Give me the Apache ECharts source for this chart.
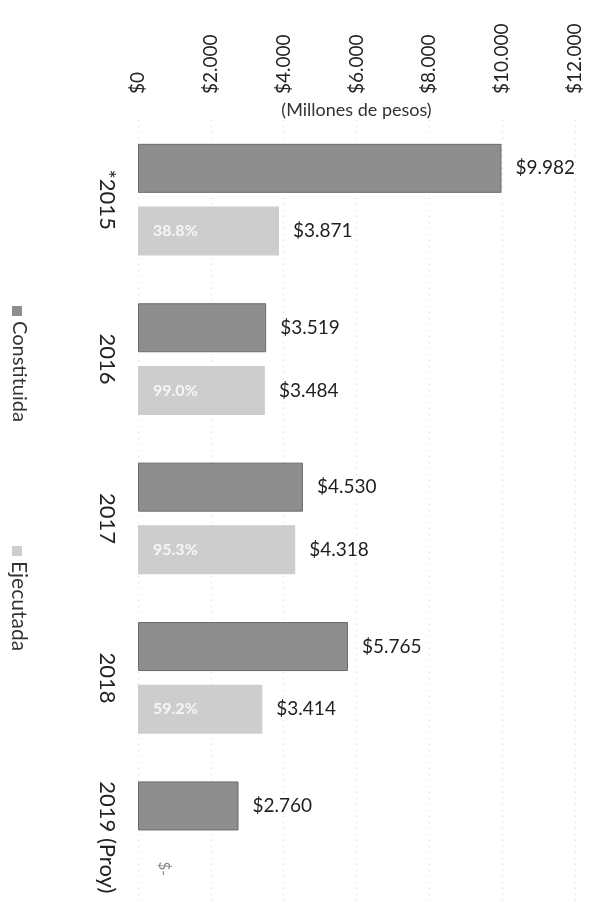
<!DOCTYPE html>
<html>
<head>
<meta charset="utf-8">
<script src="https://cdn.jsdelivr.net/npm/echarts@6/dist/echarts.min.js"></script>
<style>
  html, body { margin: 0; padding: 0; background: #fff; }
  #chart { width: 595px; height: 903px; }
</style>
</head>
<body>
<div id="chart"></div>
<script>
// Reserva constituida vs. ejecutada por año (millones de pesos)
const categories = ['*2015', '2016', '2017', '2018', '2019 (Proy)'];
const seriesNames = ['Constituida', 'Ejecutada'];
const constituida = [9982, 3519, 4530, 5765, 2760];
const ejecutada = [3871, 3484, 4318, 3414, 0];
const valueMin = 0;
const valueMax = 12000;
const valueStep = 2000;
const axisTitle = '(Millones de pesos)';

const FONT = 'Lato, "Open Sans", sans-serif';
const DARK = '#8e8e8e';
const LIGHT = '#cdcdcd';

function thousands(v) {
  return String(Math.round(v)).replace(/\B(?=(\d{3})+(?!\d))/g, '.');
}
function money(v) {
  return v === 0 ? '$-' : '$' + thousands(v);
}
function pct(num, den) {
  return (num / den * 100).toFixed(1) + '%';
}

const chart = echarts.init(document.getElementById('chart'), null, { renderer: 'canvas' });

const option = {
  backgroundColor: '#ffffff',
  animation: false,
  textStyle: { fontFamily: FONT },
  grid: { left: 138, right: 20, top: 120, height: 797, outerBoundsMode: 'none', containLabel: false },
  xAxis: {
    type: 'value',
    position: 'top',
    min: valueMin,
    max: valueMax,
    interval: valueStep,
    name: axisTitle,
    nameLocation: 'middle',
    nameGap: 1,
    nameMoveOverlap: false,
    nameTextStyle: { fontFamily: FONT, fontSize: 18, color: '#333', verticalAlign: 'bottom' },
    axisLine: { show: false },
    axisTick: { show: false },
    axisLabel: {
      rotate: -90,
      margin: 26,
      fontFamily: FONT,
      fontSize: 19,
      color: '#222',
      formatter: v => '$' + thousands(v)
    },
    splitLine: { show: true, lineStyle: { color: '#d6d6d6', type: [1, 5], width: 1 } }
  },
  yAxis: {
    type: 'category',
    data: categories,
    inverse: true,
    axisLine: { show: false },
    axisTick: { show: false },
    axisLabel: {
      rotate: -90,
      margin: 20,
      fontFamily: FONT,
      fontSize: 22,
      color: '#222'
    },
    splitLine: { show: false }
  },
  series: [
    {
      name: seriesNames[0],
      type: 'bar',
      data: constituida,
      barWidth: 49,
      barGap: '28%',
      itemStyle: { color: DARK, borderColor: '#6a6a6a', borderWidth: 1 },
      label: {
        show: true,
        position: 'right',
        distance: 14,
        fontFamily: FONT,
        fontSize: 19,
        color: '#1e1e1e',
        formatter: p => money(p.value)
      }
    },
    {
      // zero-width base of the "Ejecutada" stack, carrying the execution-rate label
      name: 'ejecucion',
      type: 'bar',
      stack: 'ej',
      z: 3,
      barWidth: 49,
      barGap: '28%',
      data: ejecutada.map((v, i) => ({
        value: 0,
        label: { formatter: v > 0 ? pct(v, constituida[i]) : '' }
      })),
      itemStyle: { color: 'rgba(0,0,0,0)' },
      label: {
        show: true,
        position: 'right',
        distance: 15,
        fontFamily: FONT,
        fontSize: 16,
        fontWeight: 'bold',
        color: '#f6f6f6'
      }
    },
    {
      name: seriesNames[1],
      type: 'bar',
      stack: 'ej',
      barWidth: 49,
      barGap: '28%',
      data: ejecutada.map(v => v === 0
        ? { value: v, label: { rotate: -90, align: 'center', verticalAlign: 'middle', distance: 26, color: '#888', fontSize: 15 } }
        : v),
      itemStyle: { color: LIGHT },
      label: {
        show: true,
        position: 'right',
        distance: 14,
        fontFamily: FONT,
        fontSize: 19,
        color: '#1e1e1e',
        formatter: p => money(p.value)
      }
    }
  ],
  graphic: [
    // vertical legend on the left edge
    { type: 'rect', left: 12, top: 306, shape: { width: 10, height: 10 }, style: { fill: DARK } },
    { type: 'text', x: 19, y: 321, rotation: -Math.PI / 2,
      style: { text: seriesNames[0], x: 0, y: 0, align: 'left', verticalAlign: 'middle', fontFamily: FONT, fontSize: 20, fill: '#333' } },
    { type: 'rect', left: 12, top: 546, shape: { width: 10, height: 10 }, style: { fill: LIGHT } },
    { type: 'text', x: 19, y: 561, rotation: -Math.PI / 2,
      style: { text: seriesNames[1], x: 0, y: 0, align: 'left', verticalAlign: 'middle', fontFamily: FONT, fontSize: 21, fill: '#333' } }
  ]
};

chart.setOption(option);
</script>
</body>
</html>
